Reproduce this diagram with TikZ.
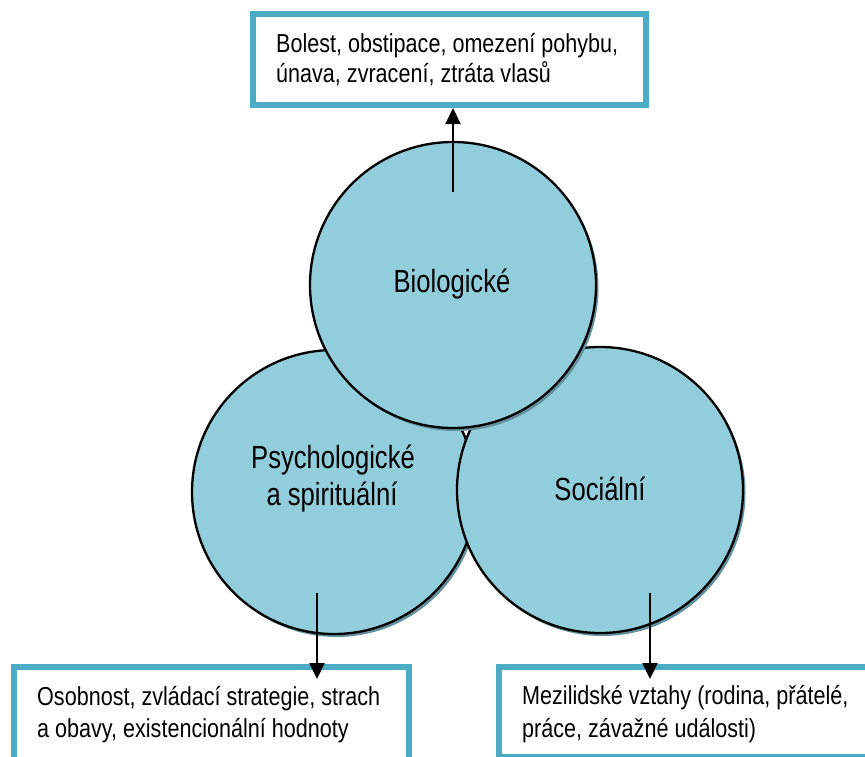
\documentclass[tikz,border=0pt]{standalone}
\usepackage{fontspec}
\setmainfont{Liberation Sans}
\newfontfamily\boxfont{Liberation Sans}[FakeStretch=0.83]
\newfontfamily\circfont{Liberation Sans}[FakeStretch=0.8]
\usetikzlibrary{arrows.meta,shadows}
\definecolor{circfill}{HTML}{92CDDC}
\definecolor{boxline}{HTML}{4BACC6}
\definecolor{shadowc}{HTML}{648F9C}
\tikzset{
  circ/.style={circle, draw=black, line width=2.3pt, fill=circfill, inner sep=0pt,
    general shadow={fill=shadowc, shadow xshift=2.5pt, shadow yshift=-3pt}},
  boxst/.style={rectangle, draw=boxline, line width=6pt, fill=white, inner sep=0pt},
  boxtext/.style={anchor=base west, inner sep=0pt, font=\boxfont\fontsize{26pt}{30pt}\selectfont},
  circtext/.style={anchor=base, inner sep=0pt, font=\circfont\fontsize{32pt}{37pt}\selectfont},
  arr/.style={line width=2.2pt, -{Triangle[length=16pt,width=15pt]}}
}
\begin{document}
\begin{tikzpicture}[x=1pt,y=-1pt]
\useasboundingbox (0,0) rectangle (865,756);
\fill[white] (0,0) rectangle (865,756);
\clip (0,0) rectangle (865,756);
% boxes
\node[boxst, minimum width=393pt, minimum height=91pt] (biobox) at (449.5,59.5) {};
\node[boxst, minimum width=395pt, minimum height=103pt] (psybox) at (211.5,718.5) {};
\node[boxst, minimum width=381pt, minimum height=90pt] (socbox) at (689.5,712) {};
% box texts
\node[boxtext] (biotxt) at (276,52) {\vtop{\baselineskip=30pt\hbox{Bolest, obstipace, omezení pohybu,}\hbox{únava, zvracení, ztráta vlasů}}};
\node[boxtext] (psytxt) at (37,705) {\vtop{\baselineskip=32pt\hbox{Osobnost, zvládací strategie, strach}\hbox{a obavy, existencionální hodnoty}}};
\node[boxtext] (soctxt) at (522,704) {\vtop{\baselineskip=33pt\hbox{Mezilidské vztahy (rodina, přátelé,}\hbox{práce, závažné události)}}};
% circles
\node[circ, minimum size=284pt] (psy) at (334,492) {};
\node[circ, minimum size=286pt] (soc) at (600,490) {};
\node[circ, minimum size=286pt] (bio) at (453,285) {};
% circle texts
\node[circtext] (biolbl) at (452,292) {Biologické};
\node[circtext] (psylbl1) at (333,468) {Psychologické};
\node[circtext] (psylbl2) at (332,505) {a spirituální};
\node[circtext] (soclbl) at (600,500) {Sociální};
% arrows
\coordinate (bioA) at (453,192);
\coordinate (psyA) at (317,593);
\coordinate (psyT) at (317,679);
\coordinate (socA) at (650,593);
\coordinate (socT) at (650,679);
\draw[arr] (bioA) -- (bioA |- biobox.south);
\draw[arr] (psyA) -- (psyT);
\draw[arr] (socA) -- (socT);
\end{tikzpicture}
\end{document}
